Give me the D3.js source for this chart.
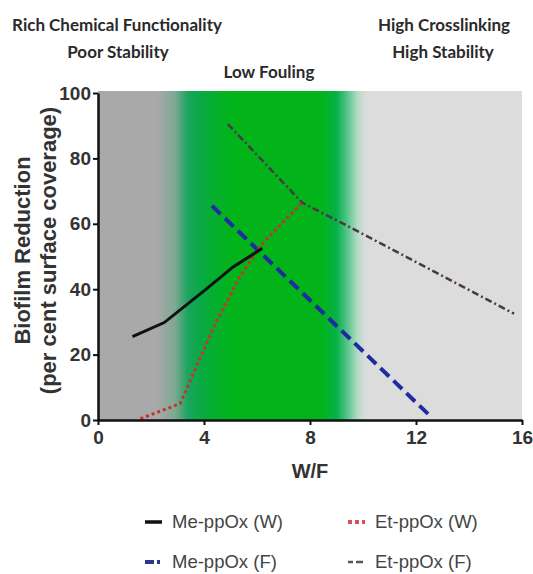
<!DOCTYPE html>
<html>
<head>
<meta charset="utf-8">
<script src="https://cdn.jsdelivr.net/npm/d3@7"></script>
<style>
  body { margin: 0; background: #fff; }
</style>
</head>
<body>
<div id="chart"></div>
<script>
const width = 533, height = 574, margin = {top: 93, right: 11, bottom: 154, left: 98};

// data (x = W/F, y = biofilm reduction %)
const meW = [[1.3, 25.5], [2.5, 29.8], [4.0, 39.5], [5.1, 46.8], [6.2, 52.5]];
const etW = [[1.6, 0.4], [3.1, 5], [4.4, 29], [5.3, 43], [6.1, 53], [7.7, 66.5]];
const meF = [[4.3, 65.5], [12.5, 1.5]];
const etF = [[4.9, 90.5], [7.7, 66.5], [9.5, 59], [15.7, 32.5]];

const xTicks = [0, 4, 8, 12, 16];
const yTicks = [0, 20, 40, 60, 80, 100];

// background zones in W/F units
const zoneStops = [
  [0, "#a9a9a9"], [2.2, "#a9a9a9"], [2.9, "#7fa893"], [3.4, "#1aa45e"],
  [4.0, "#06ab3c"], [5.0, "#02b41a"], [8.4, "#02b41a"], [9.0, "#05b148"],
  [9.4, "#55c389"], [9.8, "#b5dcc5"], [10.1, "#dcdcdc"], [16, "#dcdcdc"]
];

const headers = [
  {text: "Rich Chemical Functionality", x: 117, y: 31},
  {text: "Poor Stability", x: 118, y: 58},
  {text: "Low Fouling", x: 269, y: 78},
  {text: "High Crosslinking", x: 444, y: 31},
  {text: "High Stability", x: 443, y: 58}
];

const svg = d3.select("#chart")
  .append("svg")
  .attr("width", width)
  .attr("height", height);

const x = d3.scaleLinear()
    .domain([0, 16])
    .range([margin.left, width - margin.right]);

const y = d3.scaleLinear()
    .domain([0, 100])
    .range([height - margin.bottom, margin.top]);

const grad = svg.append("defs").append("linearGradient")
    .attr("id", "zones")
    .attr("gradientUnits", "userSpaceOnUse")
    .attr("x1", x(0)).attr("x2", x(16))
    .attr("y1", 0).attr("y2", 0);

grad.selectAll("stop")
  .data(zoneStops)
  .join("stop")
    .attr("offset", d => d[0] / 16)
    .attr("stop-color", d => d[1]);

svg.append("rect")
    .attr("x", x(0))
    .attr("y", y(100) - 2)
    .attr("width", x(16) - x(0))
    .attr("height", y(0) - y(100) + 2)
    .attr("fill", "url(#zones)");

const line = d3.line()
    .x(d => x(d[0]))
    .y(d => y(d[1]));

svg.append("path")
    .datum(meF)
    .attr("fill", "none")
    .attr("stroke", "#1f2ba0")
    .attr("stroke-width", 4)
    .attr("stroke-dasharray", "12,6")
    .attr("d", line);

svg.append("path")
    .datum(etF)
    .attr("fill", "none")
    .attr("stroke", "#4a3848")
    .attr("stroke-width", 2.5)
    .attr("stroke-dasharray", "7,3,2,3")
    .attr("d", line);

svg.append("path")
    .datum(etW)
    .attr("fill", "none")
    .attr("stroke", "#c8322e")
    .attr("stroke-width", 3)
    .attr("stroke-dasharray", "3,3")
    .attr("d", line);

svg.append("path")
    .datum(meW)
    .attr("fill", "none")
    .attr("stroke", "#111")
    .attr("stroke-width", 3)
    .attr("d", line);

// axes
const xAxis = svg.append("g")
    .attr("transform", `translate(0,${y(0)})`)
    .call(d3.axisBottom(x).tickValues(xTicks).tickSize(5).tickPadding(6).tickSizeOuter(0));

const yAxis = svg.append("g")
    .attr("transform", `translate(${x(0)},0)`)
    .call(d3.axisLeft(y).tickValues(yTicks).tickSize(5).tickPadding(2).tickSizeOuter(0));

[xAxis, yAxis].forEach(g => {
  g.select(".domain").attr("stroke", "#111").attr("stroke-width", 2.5);
  g.selectAll(".tick line").attr("stroke", "#111").attr("stroke-width", 2);
  g.selectAll(".tick text")
    .attr("fill", "#333")
    .style("font-family", "Liberation Sans, Arial, sans-serif")
    .style("font-weight", "bold")
    .style("font-size", "19px");
});

svg.append("text")
    .attr("x", x(8))
    .attr("y", 478)
    .attr("text-anchor", "middle")
    .attr("fill", "#333")
    .style("font-family", "Liberation Sans, Arial, sans-serif")
    .style("font-weight", "bold")
    .style("font-size", "20px")
    .text("W/F");

const yLab = svg.append("text")
    .attr("transform", `translate(30,${(y(0) + y(100)) / 2 - 6}) rotate(-90)`)
    .attr("text-anchor", "middle")
    .attr("fill", "#333")
    .style("font-family", "Liberation Sans, Arial, sans-serif")
    .style("font-weight", "bold")
    .style("font-size", "22px");
yLab.append("tspan").attr("x", 0).attr("dy", 0).text("Biofilm Reduction");
yLab.append("tspan").attr("x", 0).attr("dy", 26).text("(per cent surface coverage)");

svg.selectAll(".header")
  .data(headers)
  .join("text")
    .attr("class", "header")
    .attr("x", d => d.x)
    .attr("y", d => d.y)
    .attr("text-anchor", "middle")
    .attr("fill", "#2a2a2a")
    .style("font-family", "Lato, sans-serif")
    .style("font-weight", "bold")
    .style("font-size", "17px")
    .text(d => d.text);

// legend
const legendItems = [
  {label: "Me-ppOx (W)", color: "#111", dash: null, w: 3.5, col: 0, row: 0},
  {label: "Et-ppOx (W)", color: "#d9505a", dash: "4,3", w: 4, col: 1, row: 0},
  {label: "Me-ppOx (F)", color: "#2a3590", dash: "9,3,3,3", w: 4, col: 0, row: 1},
  {label: "Et-ppOx (F)", color: "#555", dash: "5,3,7", w: 2.5, col: 1, row: 1}
];

const leg = svg.selectAll(".legend")
  .data(legendItems)
  .join("g")
    .attr("class", "legend")
    .attr("transform", d => `translate(${145 + d.col * 203},${522 + d.row * 40})`);

leg.append("line")
    .attr("x1", 0).attr("x2", 17)
    .attr("y1", 0).attr("y2", 0)
    .attr("stroke", d => d.color)
    .attr("stroke-width", d => d.w)
    .attr("stroke-dasharray", d => d.dash);

leg.append("text")
    .attr("x", 27)
    .attr("y", 6)
    .attr("fill", "#444")
    .style("font-family", "Liberation Sans, Arial, sans-serif")
    .style("font-size", "18.5px")
    .text(d => d.label);
</script>
</body>
</html>
